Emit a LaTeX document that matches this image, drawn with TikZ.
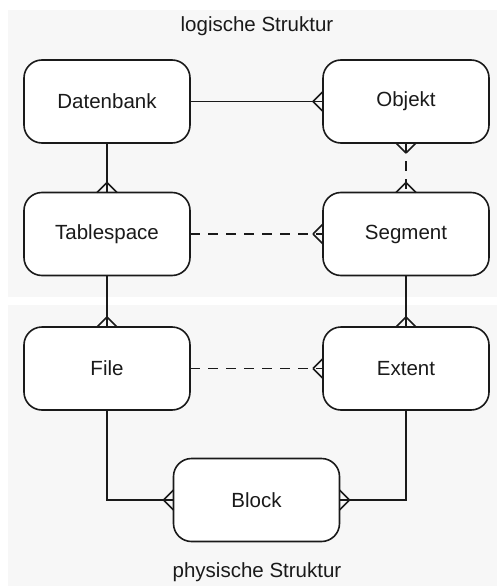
\documentclass[tikz,border=0pt]{standalone}
\usepackage{fontspec}
\setmainfont{Liberation Sans}
\definecolor{panel}{HTML}{F7F7F7}
\definecolor{ink}{HTML}{1A1A1A}
\newcommand\crowW[1]{\draw[conn] ([xshift=-10pt]#1) -- ([yshift=10pt]#1) ([xshift=-10pt]#1) -- ([yshift=-10pt]#1);}
\newcommand\crowE[1]{\draw[conn] ([xshift=10pt]#1) -- ([yshift=10pt]#1) ([xshift=10pt]#1) -- ([yshift=-10pt]#1);}
\newcommand\crowN[1]{\draw[conn] ([yshift=10pt]#1) -- ([xshift=10pt]#1) ([yshift=10pt]#1) -- ([xshift=-10pt]#1);}
\newcommand\crowS[1]{\draw[conn] ([yshift=-10pt]#1) -- ([xshift=10pt]#1) ([yshift=-10pt]#1) -- ([xshift=-10pt]#1);}
\begin{document}
\begin{tikzpicture}[x=1pt,y=-1pt,
  entity/.style={draw=ink, fill=white, line width=1.6pt, rounded corners=18pt,
    minimum width=166pt, minimum height=83pt, outer sep=0pt, text=ink,
    font=\fontsize{20.5}{24}\selectfont},
  conn/.style={draw=ink, line width=1.6pt},
  dashconn/.style={conn, dash pattern=on 10pt off 8pt},
  lbl/.style={text=ink, font=\fontsize{20.5}{24}\selectfont}]
\useasboundingbox (0,0) rectangle (497,586);
\fill[white] (0,0) rectangle (497,586);
\fill[panel] (8,10) rectangle (497,297);
\fill[panel] (8,305) rectangle (497,586);
\node[lbl] (t1) at (257,26) {logische Struktur};
\node[lbl] (t2) at (257,572) {physische Struktur};
\node[entity] (db) at (107,101.5) {Datenbank};
\node[entity] (obj) at (406,101.5) {Objekt};
\node[entity] (ts) at (107,234) {Tablespace};
\node[entity] (seg) at (406,234) {Segment};
\node[entity] (file) at (107,368.5) {File};
\node[entity] (ext) at (406,368.5) {Extent};
\node[entity] (blk) at (256.5,500) {Block};
\draw[conn] (db.east) -- (obj.west); \crowW{obj.west}
\draw[conn] (db.south) -- (ts.north); \crowN{ts.north}
\draw[dashconn] (obj.south) -- (seg.north); \crowS{obj.south} \crowN{seg.north}
\draw[dashconn] (ts.east) -- (seg.west); \crowW{seg.west}
\draw[conn] (ts.south) -- (file.north); \crowN{file.north}
\draw[conn] (seg.south) -- (ext.north); \crowN{ext.north}
\draw[dashconn] (file.east) -- (ext.west); \crowW{ext.west}
\draw[conn] (file.south) |- (blk.west); \crowW{blk.west}
\draw[conn] (ext.south) |- (blk.east); \crowE{blk.east}
\end{tikzpicture}
\end{document}
